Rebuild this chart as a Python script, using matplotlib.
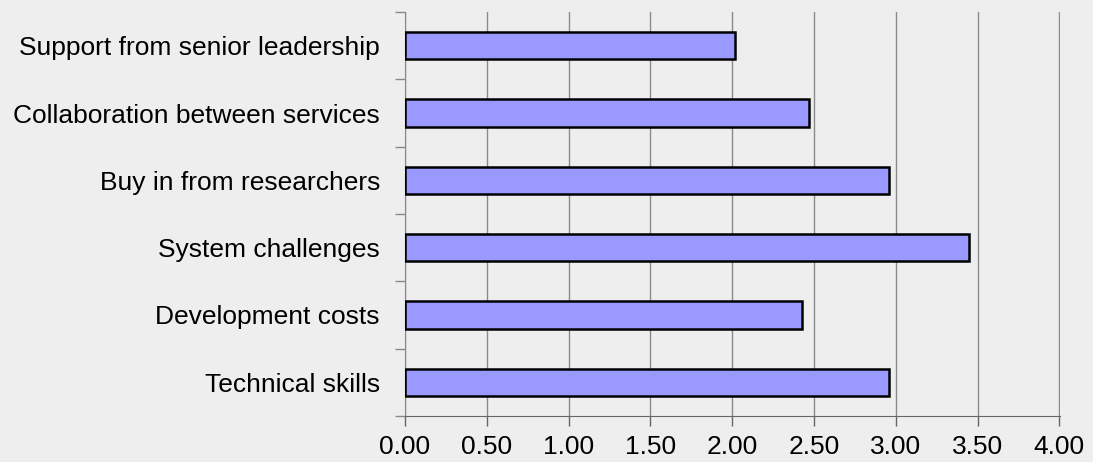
import numpy as np
import matplotlib.pyplot as plt
from matplotlib.ticker import FixedLocator

# Data (top to bottom)
categories = [
    "Support from senior leadership",
    "Collaboration between services",
    "Buy in from researchers",
    "System challenges",
    "Development costs",
    "Technical skills",
]
scores = [2.02, 2.47, 2.96, 3.45, 2.43, 2.96]
x_ticks = [0.0, 0.5, 1.0, 1.5, 2.0, 2.5, 3.0, 3.5, 4.0]

bg = "#eeeeee"
plt.rcParams["font.family"] = ["Liberation Sans", "DejaVu Sans"]

fig = plt.figure(figsize=(10.93, 4.62), dpi=100, facecolor=bg)
ax = fig.add_axes([0.3705, 0.0996, 0.5993, 0.8744], facecolor=bg)

y = np.arange(len(categories))[::-1]
ax.barh(y, scores, height=0.41, color="#9999ff", edgecolor="black",
        linewidth=1.8, zorder=3)

ax.set_xlim(0, 4.004)
ax.set_ylim(-0.5, len(categories) - 0.5)
ax.set_xticks(x_ticks)
ax.set_xticklabels([f"{v:.2f}" for v in x_ticks], fontsize=19)
ax.set_yticks(y)
ax.set_yticklabels(categories, fontsize=19)
ax.yaxis.set_minor_locator(FixedLocator(np.arange(-0.5, len(categories), 1.0)))

ax.grid(axis="x", color="#8a8a8a", linewidth=1.0, zorder=0)
ax.tick_params(axis="y", which="major", length=0, pad=18)
ax.tick_params(axis="y", which="minor", length=7, color="#888888", width=1)
ax.tick_params(axis="x", length=7, color="#666666", width=1, pad=7)

for side in ("top", "right"):
    ax.spines[side].set_visible(False)
ax.spines["left"].set_color("#8a8a8a")
ax.spines["bottom"].set_color("#666666")

fig.savefig("out.png", dpi=100, facecolor=bg)
